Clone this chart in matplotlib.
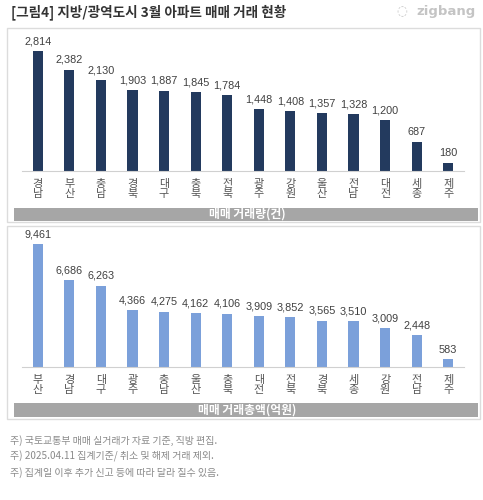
import matplotlib
matplotlib.use("Agg")
import matplotlib.pyplot as plt
from matplotlib.patches import Rectangle

plt.rcParams['font.family'] = ['Noto Sans CJK KR', 'DejaVu Sans']

W, H = 483, 500

# ---- data ----
title = "[그림4] 지방/광역도시 3월 아파트 매매 거래 현황"
vol_regions = ["경남", "부산", "충남", "경북", "대구", "충북", "전북", "광주", "강원", "울산", "전남", "대전", "세종", "제주"]
vol_values = [2814, 2382, 2130, 1903, 1887, 1845, 1784, 1448, 1408, 1357, 1328, 1200, 687, 180]
vol_label = "매매 거래량(건)"

amt_regions = ["부산", "경남", "대구", "광주", "충남", "울산", "충북", "대전", "전북", "경북", "세종", "강원", "전남", "제주"]
amt_values = [9461, 6686, 6263, 4366, 4275, 4162, 4106, 3909, 3852, 3565, 3510, 3009, 2448, 583]
amt_label = "매매 거래총액(억원)"

notes = ["주) 국토교통부 매매 실거래가 자료 기준, 직방 편집.",
         "주) 2025.04.11 집계기준/ 취소 및 해제 거래 제외.",
         "주) 집계일 이후 추가 신고 등에 따라 달라 질수 있음."]

fig = plt.figure(figsize=(W / 100, H / 100), dpi=100)
fig.patch.set_facecolor("white")


def fx(x):
    return x / W


def fy(y):
    return 1 - y / H


def box(x0, y0, x1, y1, **kw):
    fig.patches.append(Rectangle((fx(x0), fy(y1)), fx(x1) - fx(x0), fy(y0) - fy(y1),
                                 transform=fig.transFigure, **kw))


# title & logo
fig.text(fx(11), fy(12), title, fontsize=9.8, fontweight='bold', color='#333333',
         va='center', ha='left')
fig.text(fx(476), fy(12), "zigbang", fontsize=9.5, color='#c4c4c4', va='center', ha='right',
         fontweight='bold', family=['DejaVu Sans'])
fig.text(fx(402), fy(12), "◌", fontsize=9, color='#c4c4c4', va='center', ha='center',
         family=['DejaVu Sans'])

# panel frames
box(7, 28, 480, 222, facecolor='none', edgecolor='#dcdcdc', linewidth=1)
box(7, 226, 480, 419, facecolor='none', edgecolor='#dcdcdc', linewidth=1)


def draw_panel(top, base, regions, values, color, ymax, banner_y, label):
    ax = fig.add_axes([fx(22), fy(base), fx(464) - fx(22), fy(top) - fy(base)])
    x = list(range(len(regions)))
    bars = ax.bar(x, values, width=0.32, color=color)
    ax.set_xlim(-0.5, len(regions) - 0.5)
    ax.set_ylim(0, ymax)
    for b, v in zip(bars, values):
        ax.annotate(f"{v:,}", (b.get_x() + b.get_width() / 2, v), xytext=(0, 3.5),
                    textcoords='offset points', ha='center', va='bottom',
                    fontsize=7.8, color='#404040', family=['Liberation Sans'])
    ax.set_xticks(x)
    ax.set_xticklabels([])
    ax.tick_params(axis='x', length=0)
    for xi, r in zip(x, regions):
        for k, ch in enumerate(r):
            ax.annotate(ch, (xi, 0), xytext=(0, -(12.5 + 10.5 * k) * 0.72),
                        textcoords='offset points', ha='center', va='center',
                        fontsize=8, color='#555555', annotation_clip=False)
    ax.set_yticks([])
    for s in ['top', 'right', 'left']:
        ax.spines[s].set_visible(False)
    ax.spines['bottom'].set_color('#d0d0d0')
    ax.spines['bottom'].set_linewidth(0.8)
    ax.patch.set_alpha(0)
    box(14, banner_y[0], 478, banner_y[1], facecolor='#a6a6a6', edgecolor='none')
    fig.text(fx(247), fy((banner_y[0] + banner_y[1]) / 2), label, fontsize=8.5,
             fontweight='bold', color='white', ha='center', va='center')


draw_panel(36, 171, vol_regions, vol_values, '#233a5e', 3170, (208, 221), vol_label)
draw_panel(231, 367, amt_regions, amt_values, '#7ba0da', 10480, (403, 417), amt_label)

for i, n in enumerate(notes):
    fig.text(fx(10), fy(441 + i * 15.7), n, fontsize=7.2, color='#8a8a8a', ha='left', va='center')

fig.savefig("out.png", dpi=100, facecolor='white')
